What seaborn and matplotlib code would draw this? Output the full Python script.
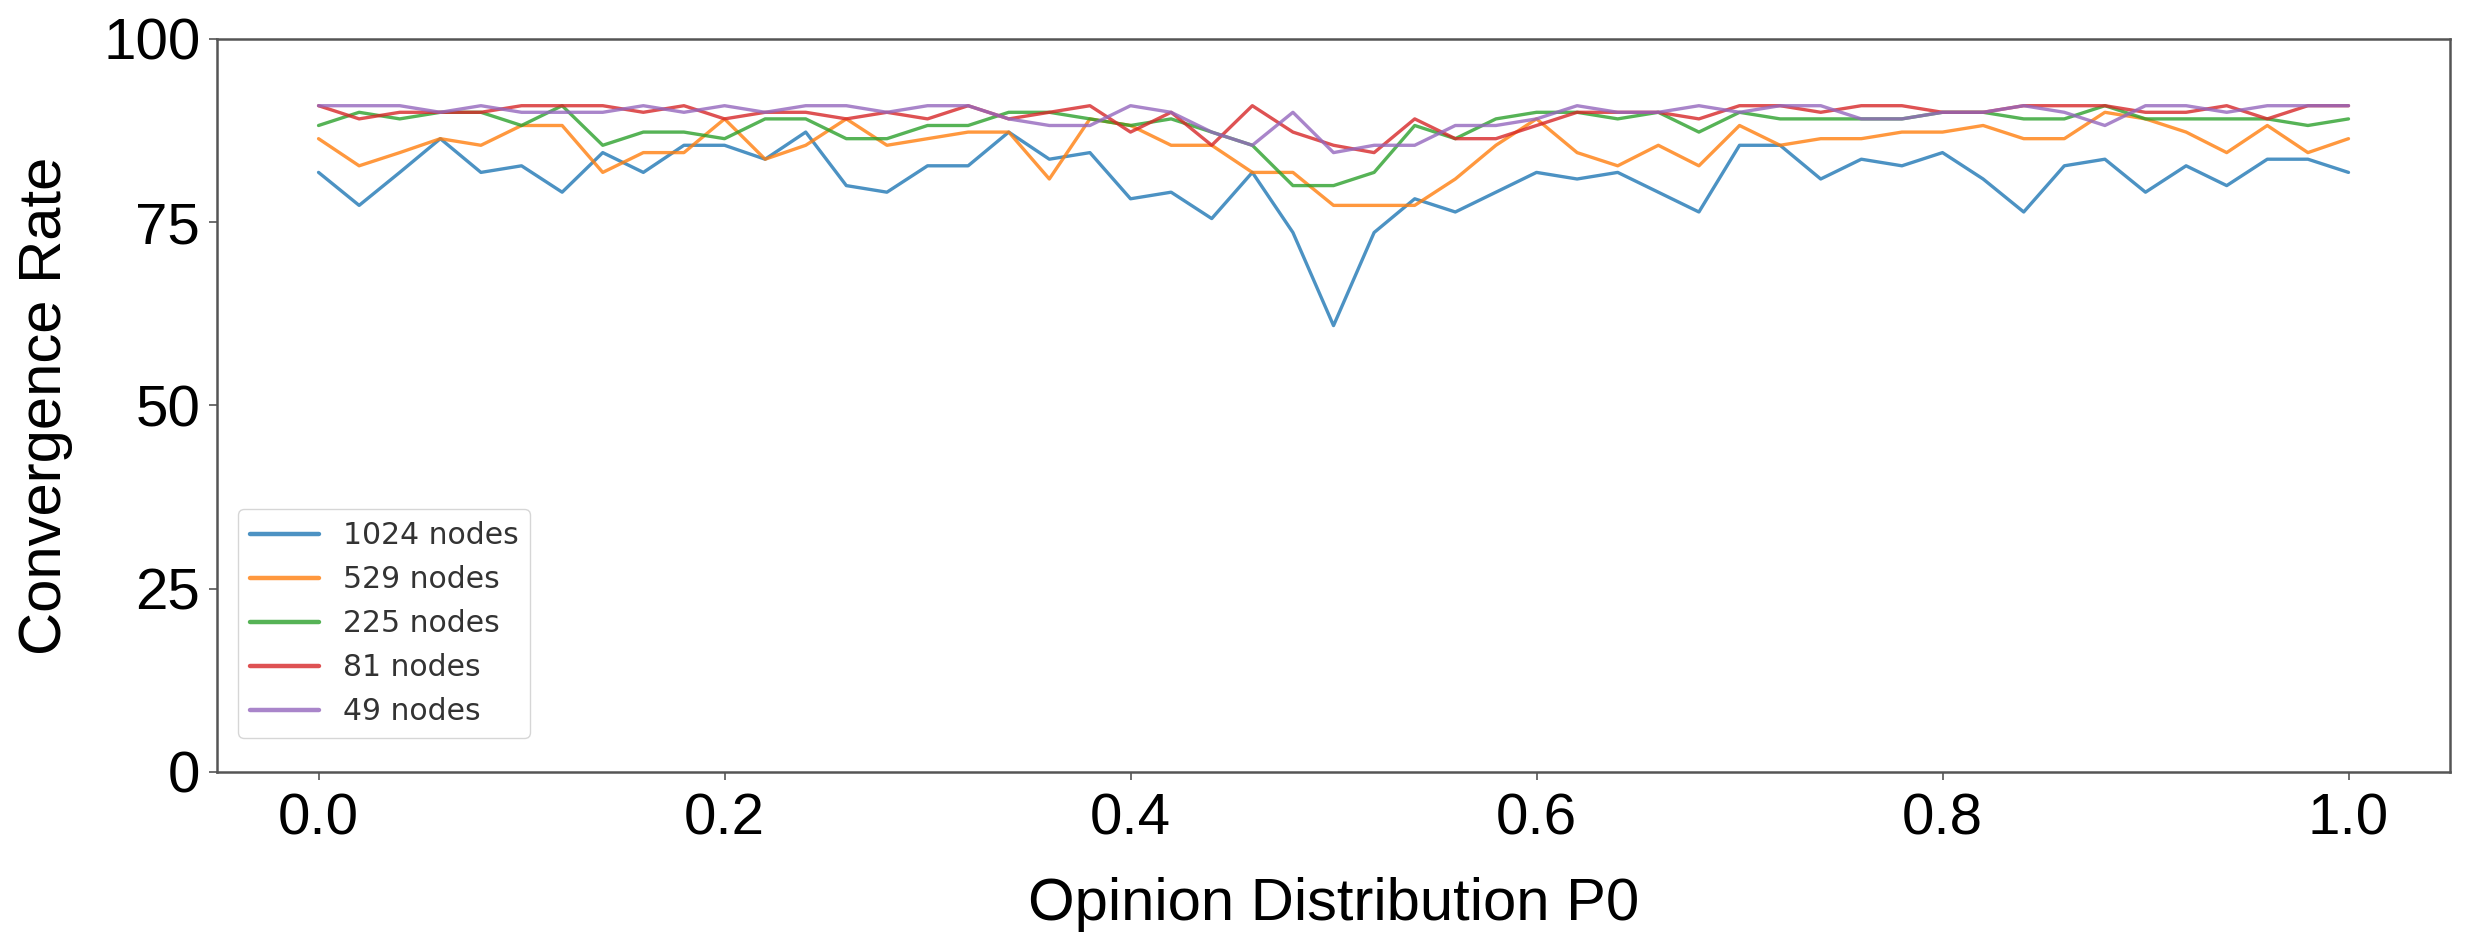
import numpy as np
import pandas as pd
import matplotlib
matplotlib.use("Agg")
import matplotlib.pyplot as plt
import seaborn as sns

# Opinion distribution P0 (x axis)
p0 = [0.00, 0.02, 0.04, 0.06, 0.08, 0.10, 0.12, 0.14, 0.16, 0.18,
      0.20, 0.22, 0.24, 0.26, 0.28, 0.30, 0.32, 0.34, 0.36, 0.38,
      0.40, 0.42, 0.44, 0.46, 0.48, 0.50, 0.52, 0.54, 0.56, 0.58,
      0.60, 0.62, 0.64, 0.66, 0.68, 0.70, 0.72, 0.74, 0.76, 0.78,
      0.80, 0.82, 0.84, 0.86, 0.88, 0.90, 0.92, 0.94, 0.96, 0.98,
      1.00]

# convergence rate, one list per network size
nodes_1024 = [81.8, 77.3, 81.8, 86.4, 81.8, 82.7, 79.1, 84.5, 81.8, 85.5,
              85.5, 83.6, 87.3, 80.0, 79.1, 82.7, 82.7, 87.3, 83.6, 84.5,
              78.2, 79.1, 75.5, 81.8, 73.6, 60.9, 73.6, 78.2, 76.4, 79.1,
              81.8, 80.9, 81.8, 79.1, 76.4, 85.5, 85.5, 80.9, 83.6, 82.7,
              84.5, 80.9, 76.4, 82.7, 83.6, 79.1, 82.7, 80.0, 83.6, 83.6,
              81.8]
nodes_529 = [86.4, 82.7, 84.5, 86.4, 85.5, 88.2, 88.2, 81.8, 84.5, 84.5,
             89.1, 83.6, 85.5, 89.1, 85.5, 86.4, 87.3, 87.3, 80.9, 89.1,
             88.2, 85.5, 85.5, 81.8, 81.8, 77.3, 77.3, 77.3, 80.9, 85.5,
             89.1, 84.5, 82.7, 85.5, 82.7, 88.2, 85.5, 86.4, 86.4, 87.3,
             87.3, 88.2, 86.4, 86.4, 90.0, 89.1, 87.3, 84.5, 88.2, 84.5,
             86.4]
nodes_225 = [88.2, 90.0, 89.1, 90.0, 90.0, 88.2, 90.9, 85.5, 87.3, 87.3,
             86.4, 89.1, 89.1, 86.4, 86.4, 88.2, 88.2, 90.0, 90.0, 89.1,
             88.2, 89.1, 87.3, 85.5, 80.0, 80.0, 81.8, 88.2, 86.4, 89.1,
             90.0, 90.0, 89.1, 90.0, 87.3, 90.0, 89.1, 89.1, 89.1, 89.1,
             90.0, 90.0, 89.1, 89.1, 90.9, 89.1, 89.1, 89.1, 89.1, 88.2,
             89.1]
nodes_81 = [90.9, 89.1, 90.0, 90.0, 90.0, 90.9, 90.9, 90.9, 90.0, 90.9,
            89.1, 90.0, 90.0, 89.1, 90.0, 89.1, 90.9, 89.1, 90.0, 90.9,
            87.3, 90.0, 85.5, 90.9, 87.3, 85.5, 84.5, 89.1, 86.4, 86.4,
            88.2, 90.0, 90.0, 90.0, 89.1, 90.9, 90.9, 90.0, 90.9, 90.9,
            90.0, 90.0, 90.9, 90.9, 90.9, 90.0, 90.0, 90.9, 89.1, 90.9,
            90.9]
nodes_49 = [90.9, 90.9, 90.9, 90.0, 90.9, 90.0, 90.0, 90.0, 90.9, 90.0,
            90.9, 90.0, 90.9, 90.9, 90.0, 90.9, 90.9, 89.1, 88.2, 88.2,
            90.9, 90.0, 87.3, 85.5, 90.0, 84.5, 85.5, 85.5, 88.2, 88.2,
            89.1, 90.9, 90.0, 90.0, 90.9, 90.0, 90.9, 90.9, 89.1, 89.1,
            90.0, 90.0, 90.9, 90.0, 88.2, 90.9, 90.9, 90.0, 90.9, 90.9,
            90.9]

series_names = ["1024 nodes", "529 nodes", "225 nodes", "81 nodes", "49 nodes"]
series_values = [nodes_1024, nodes_529, nodes_225, nodes_81, nodes_49]
y_ticks = [0, 25, 50, 75, 100]
x_ticks = [0.0, 0.2, 0.4, 0.6, 0.8, 1.0]

frames = []
for name, vals in zip(series_names, series_values):
    frames.append(pd.DataFrame({"P0": p0, "rate": vals, "size": name}))
df = pd.concat(frames, ignore_index=True)

sns.set_style("white")
plt.rcParams["font.family"] = ["Liberation Sans", "DejaVu Sans"]
plt.rcParams["text.color"] = "black"
plt.rcParams["axes.labelcolor"] = "black"
plt.rcParams["xtick.color"] = "black"
plt.rcParams["ytick.color"] = "black"

fig, ax = plt.subplots(figsize=(24.72, 9.42), dpi=100)
fig.subplots_adjust(left=0.0878, right=0.9911, top=0.9586, bottom=0.1805)

sns.lineplot(data=df, x="P0", y="rate", hue="size", hue_order=series_names,
             palette="tab10", linewidth=2.4, alpha=0.8, ax=ax)

ax.set_xlim(-0.05, 1.05)
ax.set_ylim(0, 100)
ax.set_xticks(x_ticks)
ax.set_xticklabels([f"{t:.1f}" for t in x_ticks])
ax.set_yticks(y_ticks)
ax.tick_params(axis="both", which="major", bottom=True, left=True,
               labelsize=42, length=6, width=1.2, direction="out")
ax.tick_params(axis="x", colors="black", pad=9)
ax.tick_params(axis="y", colors="black", pad=6)
ax.tick_params(axis="both", color="#555555")
ax.set_xlabel("Opinion Distribution P0", fontsize=43, labelpad=22)
ax.set_ylabel("Convergence Rate", fontsize=43, labelpad=22)

for sp in ax.spines.values():
    sp.set_color("#555555")
    sp.set_linewidth(1.8)

leg = ax.legend(loc="lower left", bbox_to_anchor=(0.0094, 0.0464), borderaxespad=0,
                handlelength=2.3, labelcolor="#333333", title=None,
                prop={"family": "DejaVu Sans", "size": 21.5})
leg.get_frame().set_edgecolor("#cccccc")
for line in leg.get_lines():
    line.set_linewidth(3.2)

fig.savefig("out.png", dpi=100)
